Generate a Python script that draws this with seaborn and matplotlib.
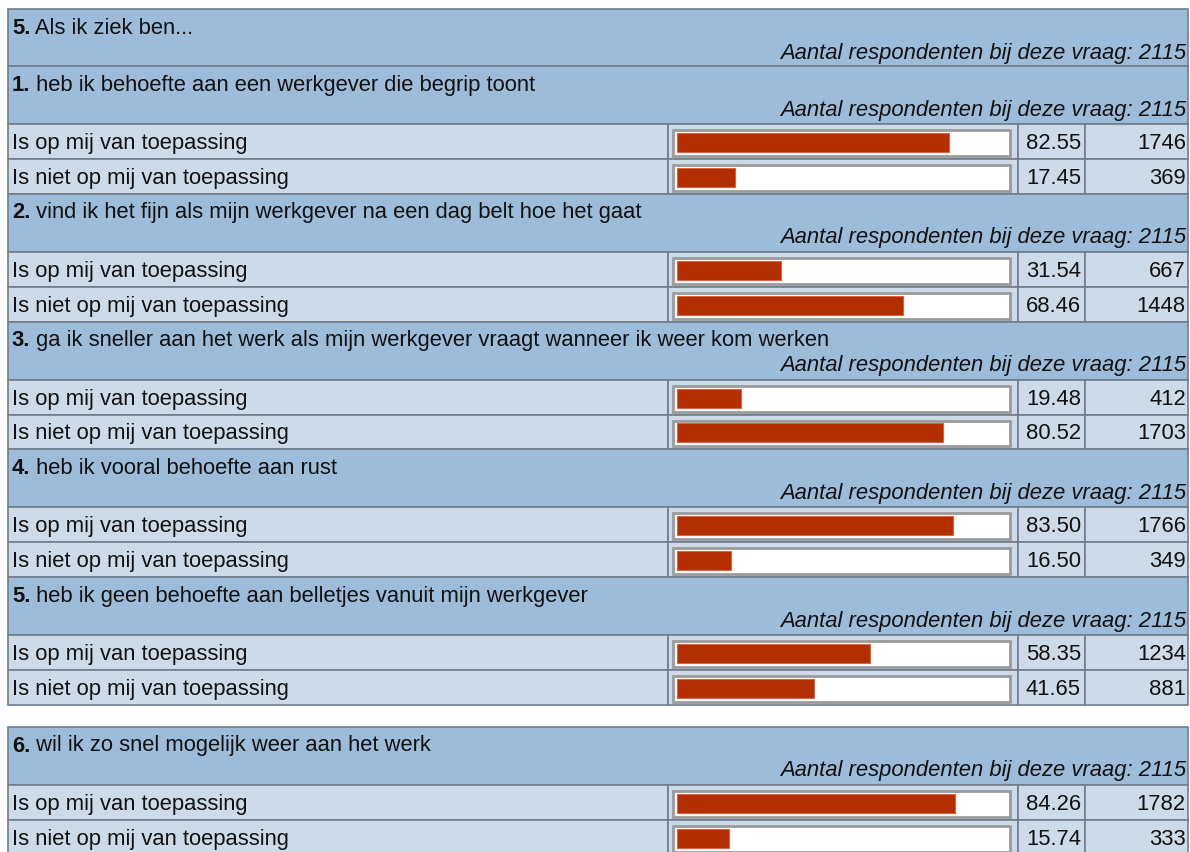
import matplotlib
matplotlib.use("Agg")
import matplotlib.pyplot as plt
from matplotlib.patches import Rectangle
import seaborn as sns
import pandas as pd

# ---- survey results -------------------------------------------------------
section_number = "5."
section_title = "Als ik ziek ben..."
respondents = 2115
respondents_label = "Aantal respondenten bij deze vraag: {}"

question_numbers = ["1.", "2.", "3.", "4.", "5.", "6."]
question_texts = [
    "heb ik behoefte aan een werkgever die begrip toont",
    "vind ik het fijn als mijn werkgever na een dag belt hoe het gaat",
    "ga ik sneller aan het werk als mijn werkgever vraagt wanneer ik weer kom werken",
    "heb ik vooral behoefte aan rust",
    "heb ik geen behoefte aan belletjes vanuit mijn werkgever",
    "wil ik zo snel mogelijk weer aan het werk",
]
answer_labels = ["Is op mij van toepassing", "Is niet op mij van toepassing"]
pct_applies = [82.55, 31.54, 19.48, 83.50, 58.35, 84.26]
pct_not_applies = [17.45, 68.46, 80.52, 16.50, 41.65, 15.74]
count_applies = [1746, 667, 412, 1766, 1234, 1782]
count_not_applies = [369, 1448, 1703, 349, 881, 333]

# ---- styling ---------------------------------------------------------------
W, H = 1190, 853
HEADER_BG = "#9dbcd9"
ROW_BG = "#cddbe8"
GRID = "#6f7d8c"
BAR_RED = "#b32e00"
FS = 15.8

sns.set_theme(style="white")
plt.rcParams["font.family"] = ["Liberation Sans", "DejaVu Sans"]

fig = plt.figure(figsize=(W / 100, H / 100), dpi=100)
fig.patch.set_facecolor("white")
ax = fig.add_axes([0, 0, 1, 1])
ax.set_xlim(0, W)
ax.set_ylim(H, 0)
ax.axis("off")

X0, X1 = 8, 1188
COL_BAR, COL_PCT, COL_CNT = 668, 1018, 1085
HEAD_H, ROW_H = 58, 34.9
BAR_LEFT, BAR_SPAN = 677, 330


def cell(x0, y0, x1, y1, fc):
    ax.add_patch(Rectangle((x0, y0), x1 - x0, y1 - y0, facecolor=fc,
                           edgecolor=GRID, lw=1.2))


def header(y, h, num, text):
    cell(X0, y, X1, y + h, HEADER_BG)
    t = ax.text(X0 + 4, y + 18, num, fontsize=FS, fontweight="bold",
                va="center", ha="left", color="#111111")
    ax.annotate(" " + text, xy=(1, 0), xycoords=t, va="bottom", ha="left",
                fontsize=FS, color="#111111")
    ax.text(X1 - 2, y + 43, respondents_label.format(respondents),
            style="italic", ha="right", va="center", fontsize=FS,
            color="#111111")


def answer_row(y, label, pct, cnt):
    cell(X0, y, COL_BAR, y + ROW_H, ROW_BG)
    cell(COL_BAR, y, COL_PCT, y + ROW_H, ROW_BG)
    cell(COL_PCT, y, COL_CNT, y + ROW_H, ROW_BG)
    cell(COL_CNT, y, X1, y + ROW_H, ROW_BG)
    yc = y + ROW_H / 2 + 1
    ax.text(X0 + 4, yc, label, va="center", ha="left", fontsize=FS,
            color="#111111")
    ax.add_patch(Rectangle((673, y + 6), 337, ROW_H - 9, facecolor="white",
                           edgecolor="#9b9b9b", lw=2))
    ax.text(COL_CNT - 4, yc, f"{pct:.2f}", va="center", ha="right",
            fontsize=FS, color="#111111")
    ax.text(X1 - 2, yc, f"{cnt}", va="center", ha="right", fontsize=FS,
            color="#111111")


def bars(y_top, pcts):
    bax = fig.add_axes([BAR_LEFT / W, 1 - (y_top + 1 + 2 * ROW_H) / H,
                        BAR_SPAN / W, 2 * ROW_H / H])
    df = pd.DataFrame({"answer": answer_labels, "pct": pcts})
    sns.barplot(data=df, x="pct", y="answer", orient="h", color=BAR_RED,
                saturation=1, width=19 / ROW_H, ax=bax,
                edgecolor="#d8653f", linewidth=0.8)
    bax.set_xlim(0, 100)
    bax.set_ylim(1.5, -0.5)
    bax.axis("off")


def question_block(y, i):
    header(y, HEAD_H, question_numbers[i], question_texts[i])
    r0 = y + HEAD_H
    answer_row(r0, answer_labels[0], pct_applies[i], count_applies[i])
    answer_row(r0 + ROW_H, answer_labels[1], pct_not_applies[i],
               count_not_applies[i])
    bars(r0, [pct_applies[i], pct_not_applies[i]])
    return r0 + 2 * ROW_H


# ---- table ----------------------------------------------------------------
y = 10
header(y, 57, section_number, section_title)
y += 57
for i in range(5):
    y = question_block(y, i)

y += 22
question_block(y, 5)

fig.savefig("out.png", dpi=100, facecolor="white")
